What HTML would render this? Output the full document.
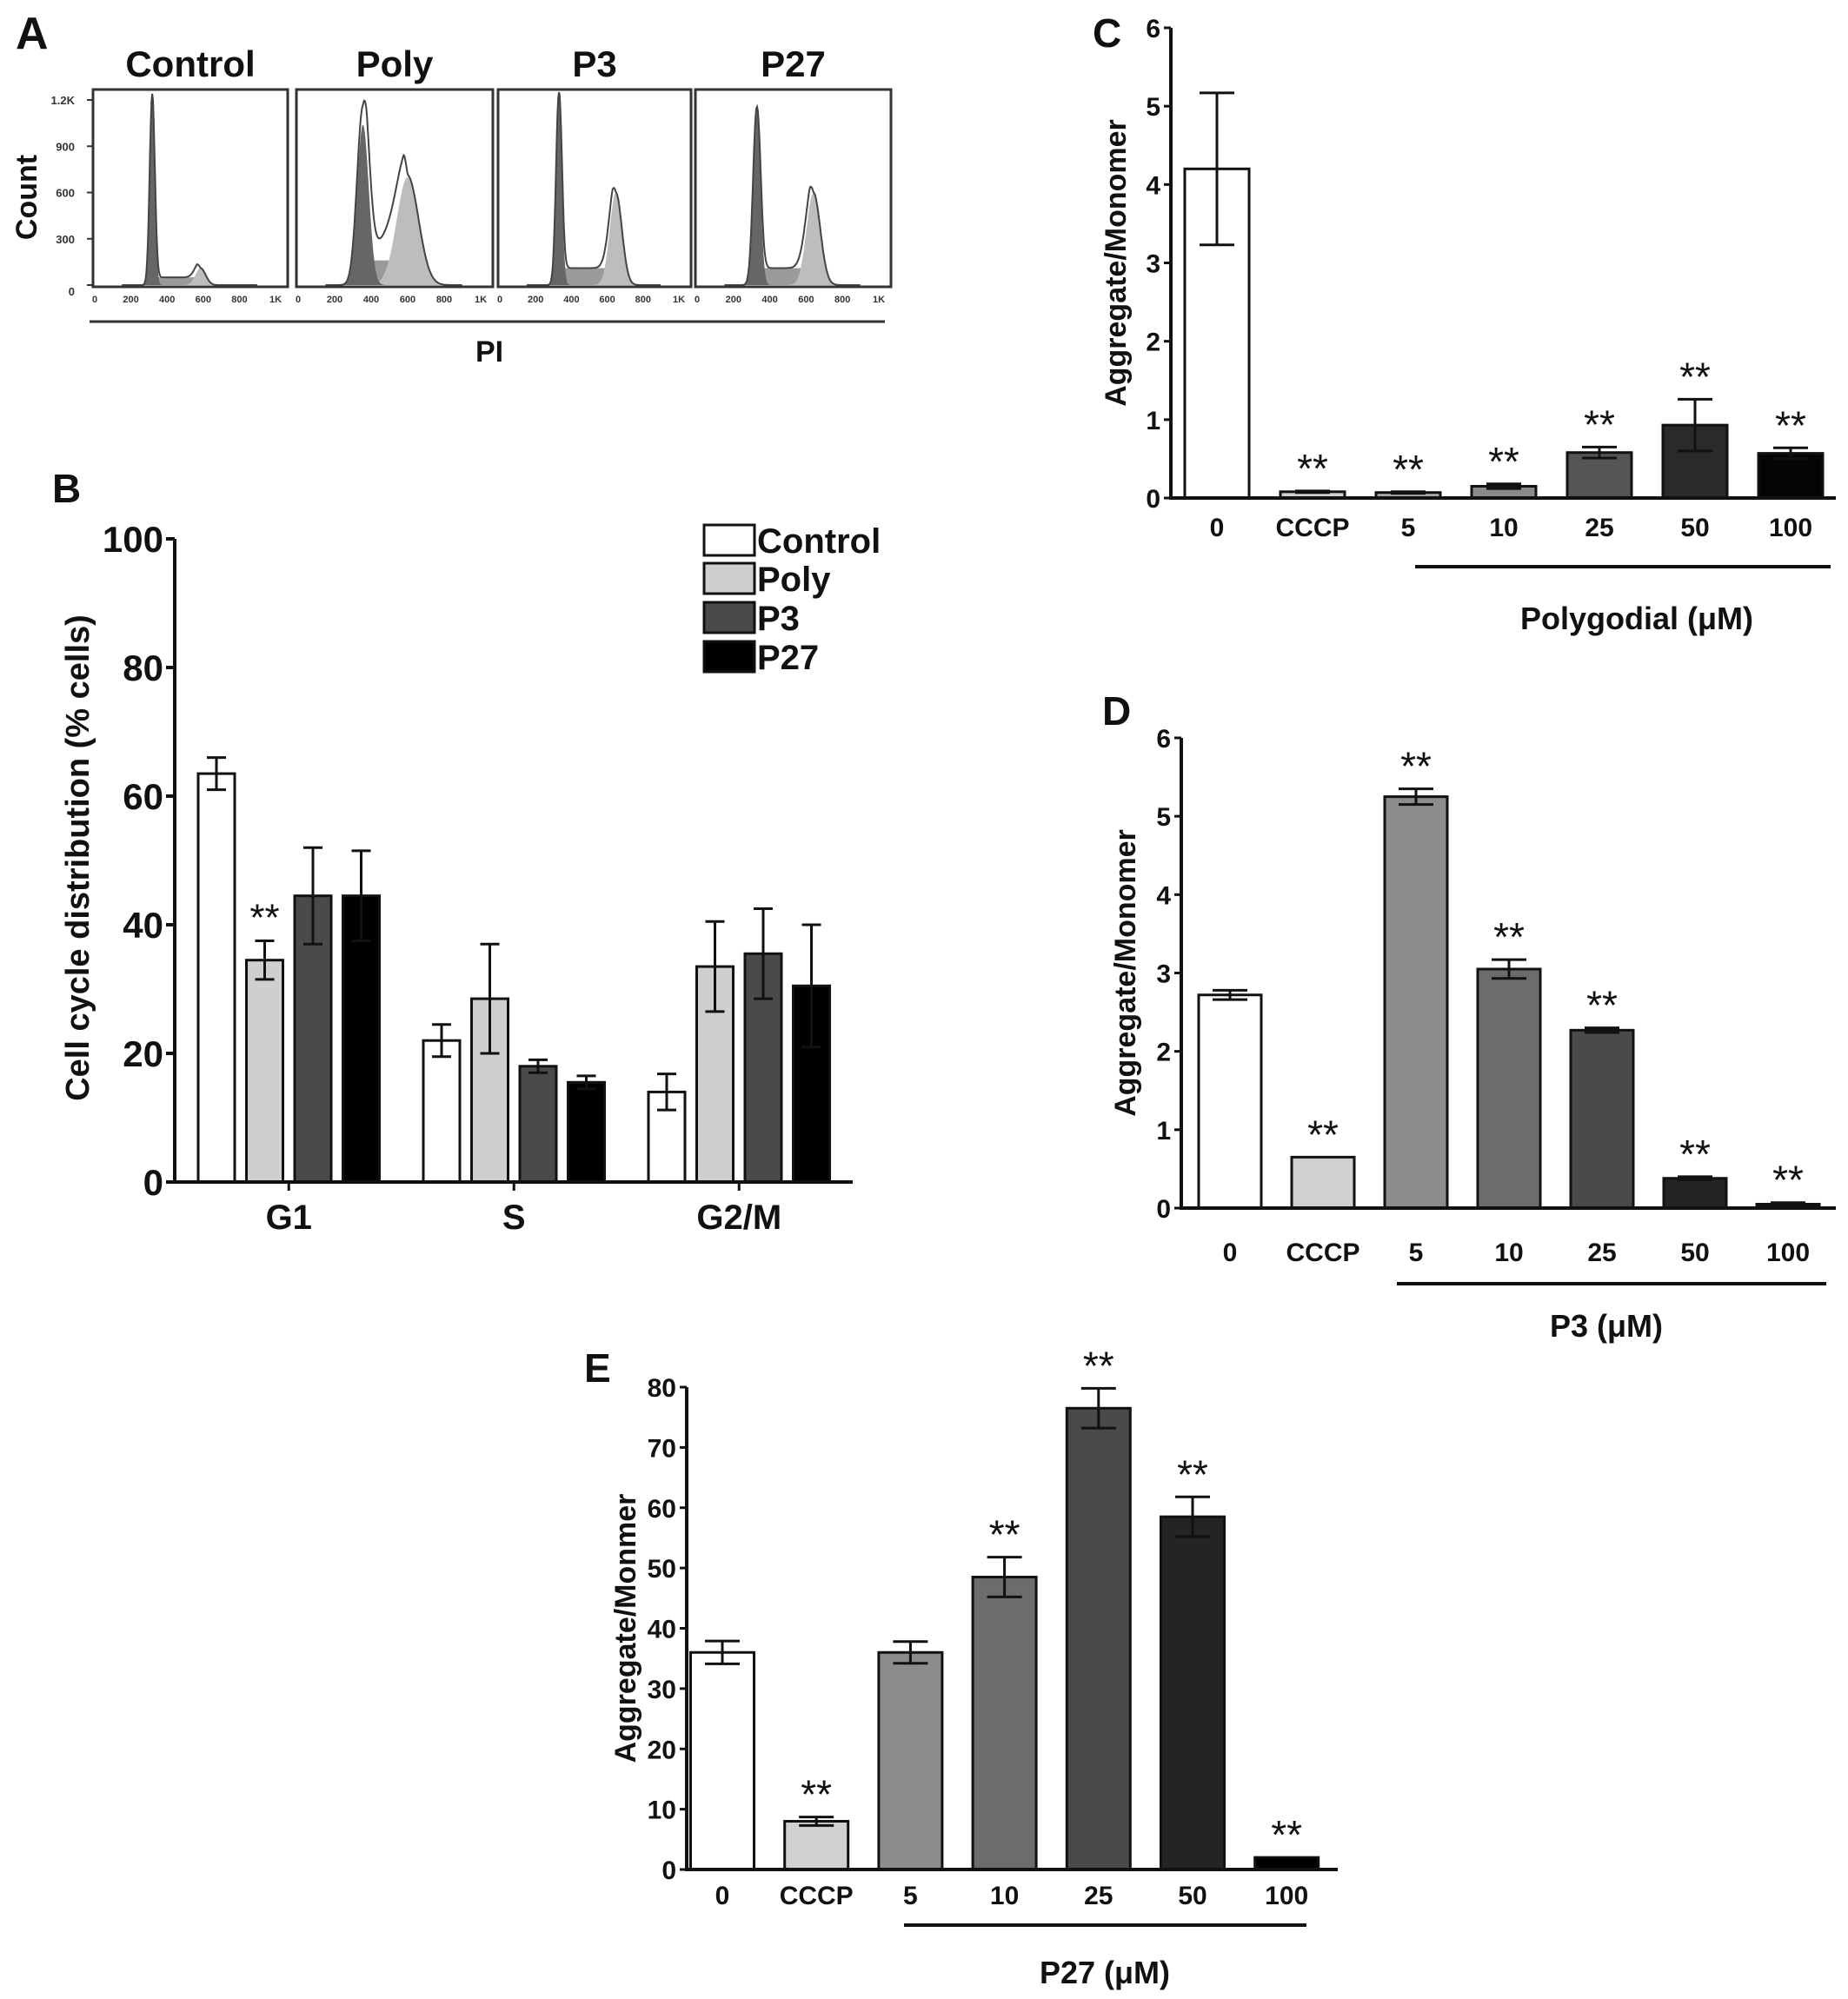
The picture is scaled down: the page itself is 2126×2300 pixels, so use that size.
<!DOCTYPE html>
<html><head><meta charset="utf-8"><style>
html,body{margin:0;padding:0;background:#fff;}
svg{display:block;font-family:"Liberation Sans",Arial,sans-serif;font-weight:bold;}
</style></head><body>
<svg id="fig" width="2126" height="2300" viewBox="0 0 2126 2300" xmlns="http://www.w3.org/2000/svg">
<rect width="2126" height="2300" fill="#fff"/>
</svg>
<script>
// ---------- Panel A data (cell-cycle fit components: position, height, width) ----------
const aTitles = ["Control","Poly","P3","P27"];
const aYTicks = [0,300,600,900,1200];
const aYTickLabels = ["0","300","600","900","1.2K"];
const aXTicks = [0,200,400,600,800,1000];
const aXTickLabels = ["0","200","400","600","800","1K"];
const aG1Pos = [318,355,330,328];
const aG1Height = [1240,1040,1250,1150];
const aG1Sigma = [14,32,16,20];
const aSHeight = [50,160,110,110];
const aG2Pos = [585,600,648,640];
const aG2Height = [110,700,600,600];
const aG2Sigma = [28,60,34,38];
const aOutlineExtra = [0,110,0,0];

// ---------- Panel B data ----------
const bCategories = ["G1","S","G2/M"];
const bSeries = ["Control","Poly","P3","P27"];
const bControl = [63.5,22,14];
const bPoly = [34.5,28.5,33.5];
const bP3 = [44.5,18,35.5];
const bP27 = [44.5,15.5,30.5];
const bControlErr = [2.5,2.5,2.8];
const bPolyErr = [3,8.5,7];
const bP3Err = [7.5,1,7];
const bP27Err = [7,1,9.5];
const bStars = [[false,true,false,false],[false,false,false,false],[false,false,false,false]];
const bYTicks = [0,20,40,60,80,100];

// ---------- Panels C, D, E data ----------
const doseLabels = ["0","CCCP","5","10","25","50","100"];
const cValues = [4.2,0.08,0.07,0.15,0.58,0.93,0.57];
const cErrors = [0.97,0.01,0.01,0.03,0.07,0.33,0.07];
const cStars = [false,true,true,true,true,true,true];
const cYTicks = [0,1,2,3,4,5,6];
const dValues = [2.72,0.65,5.25,3.05,2.27,0.38,0.05];
const dErrors = [0.06,0.0,0.1,0.12,0.03,0.02,0.02];
const dStars = [false,true,true,true,true,true,true];
const dYTicks = [0,1,2,3,4,5,6];
const eValues = [36,8,36,48.5,76.5,58.5,2];
const eErrors = [1.9,0.7,1.8,3.3,3.3,3.3,0];
const eStars = [false,true,false,true,true,true,true];
const eYTicks = [0,10,20,30,40,50,60,70,80];

const NS = "http://www.w3.org/2000/svg";
const svg = document.getElementById('fig');
function el(tag, attrs, parent, text){
  const e = document.createElementNS(NS, tag);
  for (const k in attrs) e.setAttribute(k, attrs[k]);
  if (text !== undefined) e.textContent = text;
  (parent||svg).appendChild(e);
  return e;
}
function grp(name){
  const g = document.createElementNS(NS,'g');
  
  
  svg.appendChild(g);
  return g;
}
function label(parent, x, y, txt, size, anchor, name, extra){
  const t = el('text', Object.assign({x:x,y:y,'font-size':size,'text-anchor':anchor||'middle',fill:'#111'}, extra||{}), parent, txt);
  
  
  return t;
}

// ---------- Panel A ----------
(function(){
  const g = grp('panel-a');
  label(g, 18, 56, 'A', 52, 'start', 'panel-a-label');
  const boxes = [[107,331],[341,567],[573,795],[800,1025]];
  const top = 103, bottom = 330;
  const yZero = 328, yMax = 115;
  const ys = v => yZero - (v/1200)*(yZero-yMax);
  const gauss = (x,m,s)=>Math.exp(-0.5*((x-m)/s)*((x-m)/s));
  boxes.forEach((b,i)=>{
    const x0 = b[0], x1 = b[1];
    const xs = v => x0 + 2 + (v/1000)*(x1-x0-16);
    label(g, (x0+x1)/2, 88, aTitles[i], 42, 'middle', 'histogram-title-'+aTitles[i].toLowerCase());
    const comp = (fn)=>{
      let d = 'M'+xs(150)+','+ys(0);
      for (let v=150; v<=900; v+=4) d += ' L'+xs(v).toFixed(1)+','+ys(fn(v)).toFixed(1);
      d += ' L'+xs(900)+','+ys(0)+' Z';
      return d;
    };
    const sFn = v => (v>aG1Pos[i] && v<aG2Pos[i]) ? aSHeight[i]*Math.min(1,(v-aG1Pos[i])/20)*Math.min(1,(aG2Pos[i]-v)/20) : 0;
    const g1Fn = v => aG1Height[i]*gauss(v,aG1Pos[i],aG1Sigma[i]);
    const g2Fn = v => aG2Height[i]*gauss(v,aG2Pos[i],aG2Sigma[i]);
    const pS = el('path',{d:comp(sFn),fill:'#9a9a9a'},g);
    
    
    const pG2 = el('path',{d:comp(g2Fn),fill:'#bdbdbd'},g);
    
    
    const pG1 = el('path',{d:comp(g1Fn),fill:'#666'},g);
    
    
    let od = '';
    for (let v=150; v<=900; v+=4){
      const tot = g1Fn(v)+g2Fn(v)+sFn(v)+aOutlineExtra[i]*gauss(v,(aG1Pos[i]+aG2Pos[i])/2,60)+ (i===1?110*gauss(v,aG1Pos[i],aG1Sigma[i]):0);
      od += (v===150?'M':' L')+xs(v).toFixed(1)+','+ys(tot).toFixed(1);
    }
    const po = el('path',{d:od,fill:'none',stroke:'#444','stroke-width':2},g);
    
    
    const box = el('rect',{x:x0,y:top,width:x1-x0,height:bottom-top,fill:'none',stroke:'#333','stroke-width':3},g);
    
    
    aXTicks.forEach((t,k)=>{
      label(g, xs(t), 348, aXTickLabels[k], 11, 'middle', 'x-tick-label', {fill:'#333'});
    });
  });
  aYTicks.forEach((t,k)=>{
    const tk = el('line',{x1:100,x2:107,y1:ys(t),y2:ys(t),stroke:'#333','stroke-width':2},g);
    
    
    label(g, 86, ys(t)+ (t===0?12:5), aYTickLabels[k], 13, 'end', 'y-tick-label', {fill:'#333'});
  });
  label(g, 0, 0, 'Count', 34, 'middle', 'y-axis-title', {transform:'translate(42,227) rotate(-90)'});
  const ln = el('line',{x1:103,x2:1018,y1:370,y2:370,stroke:'#333','stroke-width':3},g);
  
  
  label(g, 563, 416, 'PI', 34, 'middle', 'x-axis-title');
})();

// ---------- generic bar helpers ----------
function errBar(g, cx, yTop, yBot, cap){
  const l = el('line',{x1:cx,x2:cx,y1:yTop,y2:yBot,stroke:'#111','stroke-width':3},g);
  
  
  [yTop,yBot].forEach(y=>{
    const c = el('line',{x1:cx-cap,x2:cx+cap,y1:y,y2:y,stroke:'#111','stroke-width':3},g);
    
    
  });
}

// ---------- Panel B ----------
(function(){
  const g = grp('panel-b');
  label(g, 60, 578, 'B', 46, 'start', 'panel-b-label');
  const axX = 201, y0 = 1360, y100 = 620, axR = 981;
  const ys = v => y0 - v/100*(y0-y100);
  const vals = [bControl,bPoly,bP3,bP27];
  const errs = [bControlErr,bPolyErr,bP3Err,bP27Err];
  const fills = ['#fff','#cfcfcf','#4a4a4a','#000'];
  const bw = 42, step = 55.5, gstep = 259, gx0 = 228;
  bCategories.forEach((cat,ci)=>{
    vals.forEach((arr,si)=>{
      const x = gx0 + ci*gstep + si*step;
      const r = el('rect',{x:x,y:ys(arr[ci]),width:bw,height:y0-ys(arr[ci]),fill:fills[si],stroke:'#111','stroke-width':3},g);
      
      
      errBar(g, x+bw/2, ys(arr[ci]+errs[si][ci]), ys(arr[ci]-errs[si][ci]), 11);
      if (bStars[ci][si]) label(g, x+bw/2, ys(arr[ci]+errs[si][ci])-12, '**', 44, 'middle', 'significance-marker', {'font-weight':'normal'});
    });
    const tick = el('line',{x1:gx0+ci*gstep+1.5*step+bw/2,x2:gx0+ci*gstep+1.5*step+bw/2,y1:y0,y2:y0+10,stroke:'#111','stroke-width':3},g);
    
    
    label(g, gx0+ci*gstep+1.5*step+bw/2, 1414, cat, 40, 'middle', 'x-category-label');
  });
  const ax = el('path',{d:`M${axX},${y100} L${axX},${y0} L${axR},${y0}`,fill:'none',stroke:'#111','stroke-width':4},g);
  
  
  bYTicks.forEach(t=>{
    const tk = el('line',{x1:axX-10,x2:axX,y1:ys(t),y2:ys(t),stroke:'#111','stroke-width':4},g);
    
    
    label(g, 188, ys(t)+15, String(t), 42, 'end', 'y-tick-label');
  });
  label(g, 0, 0, 'Cell cycle distribution (% cells)', 38, 'middle', 'y-axis-title', {transform:'translate(102,987) rotate(-90)'});
  const ly = [604,648,693,738];
  bSeries.forEach((s,i)=>{
    const r = el('rect',{x:810,y:ly[i],width:58,height:35,fill:fills[i],stroke:'#111','stroke-width':3},g);
    
    
    label(g, 871, ly[i]+32, s, 40, 'start', 'legend-entry-'+s.toLowerCase());
  });
})();

// ---------- Panels C/D/E ----------
function dosePanel(cfg){
  const g = grp(cfg.name);
  label(g, cfg.letterX, cfg.letterY, cfg.letter, 46, 'start', cfg.name+'-label');
  const {axX, y0, yTop, axR, yMax} = cfg;
  const ys = v => y0 - v/yMax*(y0-yTop);
  const fills = cfg.fills;
  cfg.values.forEach((v,i)=>{
    const cx = cfg.c0 + i*cfg.step;
    const r = el('rect',{x:cx-cfg.bw/2,y:ys(v),width:cfg.bw,height:Math.max(y0-ys(v),1),fill:fills[i],stroke:'#111','stroke-width':3},g);
    
    
    const e = cfg.errors[i];
    if (e > 0) errBar(g, cx, ys(v+e), ys(v-e), 20);
    if (cfg.stars[i]) label(g, cx, ys(v+e)-10, '**', 46, 'middle', 'significance-marker', {'font-weight':'normal'});
    label(g, cx, cfg.labelY, doseLabels[i], 30, 'middle', 'x-tick-label');
  });
  const ax = el('path',{d:`M${axX},${yTop} L${axX},${y0} L${axR},${y0}`,fill:'none',stroke:'#111','stroke-width':4},g);
  
  
  cfg.ticks.forEach(t=>{
    const tk = el('line',{x1:axX-8,x2:axX,y1:ys(t),y2:ys(t),stroke:'#111','stroke-width':3},g);
    
    
    label(g, axX-12, ys(t)+11, String(t), 30, 'end', 'y-tick-label');
  });
  label(g, 0, 0, cfg.yTitle, 34, 'middle', 'y-axis-title', {transform:`translate(${cfg.yTitleX},${(yTop+y0)/2}) rotate(-90)`});
  const ul = el('line',{x1:cfg.ulX1,x2:cfg.ulX2,y1:cfg.ulY,y2:cfg.ulY,stroke:'#111','stroke-width':4},g);
  
  
  label(g, cfg.titleX, cfg.titleY, cfg.xTitle, 36, 'middle', 'x-axis-title');
}
dosePanel({name:'panel-c',letter:'C',letterX:1257,letterY:54,axX:1347,y0:573,yTop:32,axR:2112,yMax:6,
  values:cValues,errors:cErrors,stars:cStars,ticks:cYTicks,c0:1400,step:110,bw:74,labelY:617,
  fills:['#fff','#d0d0d0','#a8a8a8','#8a8a8a','#555','#2a2a2a','#050505'],
  yTitle:'Aggregate/Monomer',yTitleX:1295,ulX1:1628,ulX2:2106,ulY:652,xTitle:'Polygodial (\u03bcM)',titleX:1883,titleY:724});
dosePanel({name:'panel-d',letter:'D',letterX:1268,letterY:834,axX:1359,y0:1390,yTop:849,axR:2112,yMax:6,
  values:dValues,errors:dErrors,stars:dStars,ticks:dYTicks,c0:1415,step:107,bw:72,labelY:1451,
  fills:['#fff','#d0d0d0','#8c8c8c','#6c6c6c','#4a4a4a','#242424','#111'],
  yTitle:'Aggregate/Monomer',yTitleX:1306,ulX1:1607,ulX2:2101,ulY:1477,xTitle:'P3 (\u03bcM)',titleX:1848,titleY:1538});
dosePanel({name:'panel-e',letter:'E',letterX:672,letterY:1590,axX:790,y0:2151,yTop:1596,axR:1539,yMax:80,
  values:eValues,errors:eErrors,stars:eStars,ticks:eYTicks,c0:831,step:108.2,bw:73,labelY:2191,
  fills:['#fff','#d0d0d0','#8c8c8c','#6c6c6c','#4a4a4a','#242424','#000'],
  yTitle:'Aggregate/Monmer',yTitleX:731,ulX1:1040,ulX2:1503,ulY:2215,xTitle:'P27 (\u03bcM)',titleX:1271,titleY:2282});
</script>
</body></html>
